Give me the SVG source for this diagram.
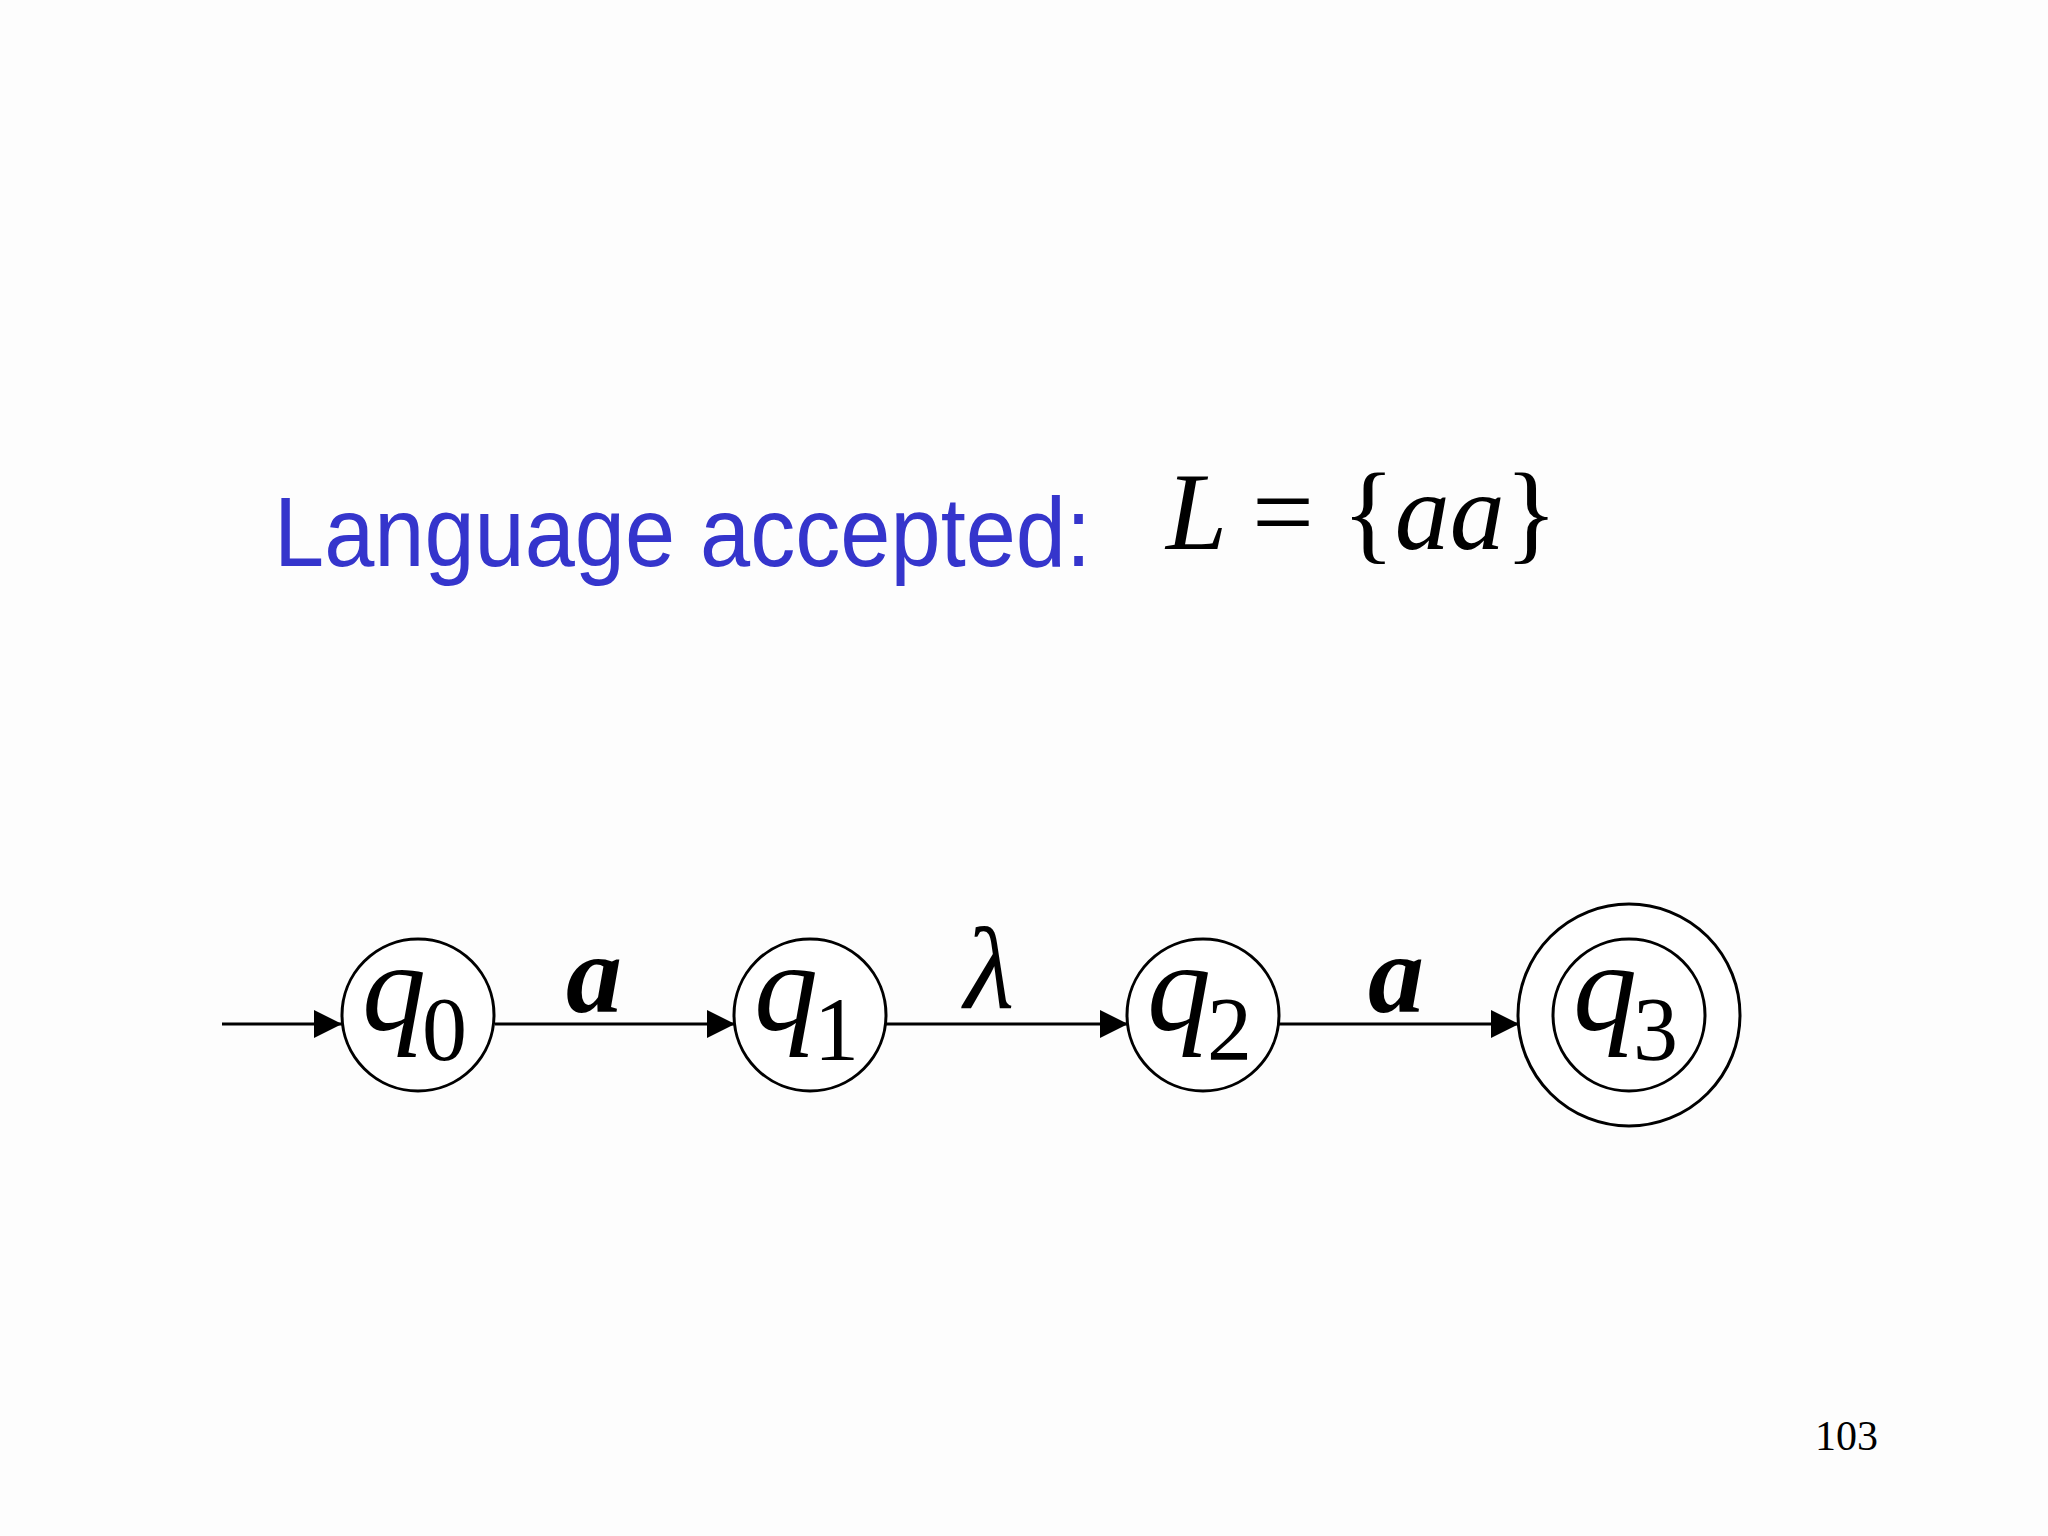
<svg xmlns="http://www.w3.org/2000/svg" width="2048" height="1536" viewBox="0 0 2048 1536">
<defs>
<style>
.st{fill:#ffffff;stroke:#000;stroke-width:3}
.q{font-family:"Liberation Serif",serif;font-style:italic;font-size:128px;fill:#000}
.sub{font-family:"Liberation Serif",serif;font-size:90px;fill:#000}
.lbl{font-family:"Liberation Serif",serif;font-style:italic;font-weight:bold;font-size:112px;fill:#000;text-anchor:middle}
.lam{font-family:"Liberation Serif",serif;font-style:italic;font-weight:normal;font-size:116px;fill:#000;text-anchor:middle}
.edge{stroke:#000;stroke-width:3;fill:none;marker-end:url(#ah)}
.math{font-family:"Liberation Serif",serif;font-size:110px;fill:#000}
</style>
<marker id="ah" markerUnits="userSpaceOnUse" markerWidth="28" markerHeight="28" refX="26" refY="13" orient="auto" viewBox="0 0 26 26">
<path d="M0,0 L26,13 L0,26 Z" fill="#000"/>
</marker>
</defs>
<rect width="2048" height="1536" fill="#fdfdfd"/>
<text x="274" y="566" font-family="'Comic Sans MS','Liberation Sans',sans-serif" font-size="98" fill="#3535cc" textLength="817" lengthAdjust="spacingAndGlyphs">Language accepted:</text>
<text id="formula" y="549" class="math"><tspan x="1166" font-style="italic">L</tspan><tspan x="1252">=</tspan><tspan x="1342">{</tspan><tspan font-style="italic">aa</tspan><tspan>}</tspan></text>
<g id="connectors">
<line id="e-init" class="edge" x1="222" y1="1024" x2="342" y2="1024"/>
<line id="e-q0-q1" class="edge" x1="495" y1="1024" x2="735" y2="1024"/>
<line id="e-q1-q2" class="edge" x1="886" y1="1024" x2="1128" y2="1024"/>
<line id="e-q2-q3" class="edge" x1="1279" y1="1024" x2="1519" y2="1024"/>
<text class="lbl" x="594" y="1012">a</text>
<text class="lam" x="989" y="1008">λ</text>
<text class="lbl" x="1396" y="1012">a</text>
</g>
<g id="q0">
<circle class="st" cx="418" cy="1015" r="76"/>
<text x="362" y="1030" class="q">q</text><text x="422" y="1060" class="sub">0</text>
</g>
<g id="q1">
<circle class="st" cx="810" cy="1015" r="76"/>
<text x="754" y="1030" class="q">q</text><text x="814" y="1060" class="sub">1</text>
</g>
<g id="q2">
<circle class="st" cx="1203" cy="1015" r="76"/>
<text x="1147" y="1030" class="q">q</text><text x="1207" y="1060" class="sub">2</text>
</g>
<g id="q3">
<circle class="st" cx="1629" cy="1015" r="111"/>
<circle class="st" cx="1629" cy="1015" r="76"/>
<text x="1573" y="1030" class="q">q</text><text x="1633" y="1060" class="sub">3</text>
</g>
<text x="1815" y="1450" font-family="'Liberation Serif',serif" font-size="42" fill="#000">103</text>
</svg>
